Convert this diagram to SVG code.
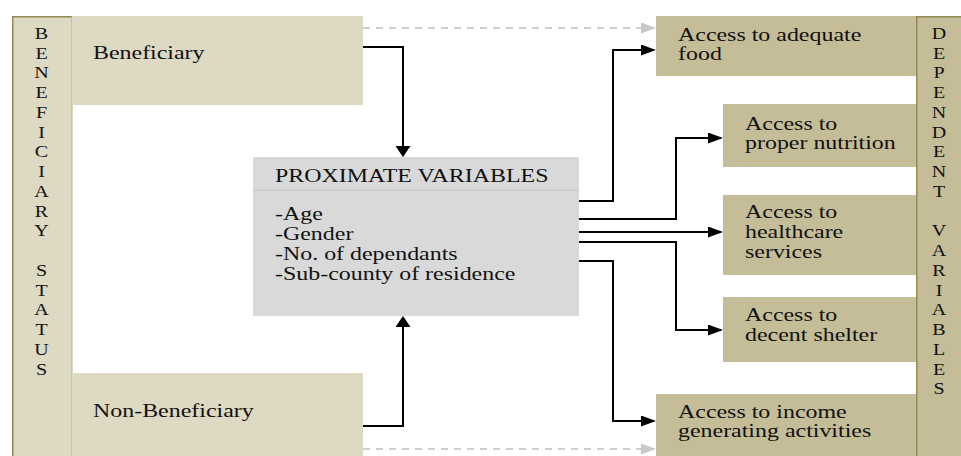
<svg xmlns="http://www.w3.org/2000/svg" width="961" height="456" viewBox="0 0 961 456">
<style>
.lt{fill:#ddd9c3}
.dk{fill:#c4bd97}
.edge{stroke:#948a54;stroke-width:1.5}
.t{font-family:"Liberation Serif","Times New Roman",serif;font-size:18px;fill:#111}
.v{font-family:"Liberation Serif","Times New Roman",serif;font-size:16px;fill:#111;text-anchor:middle}
.c{fill:none;stroke:#000;stroke-width:2}
.d{fill:none;stroke:#c0c0c0;stroke-width:1.5;stroke-dasharray:7 6}
</style>
<defs>
<marker id="ah" viewBox="0 0 15 11" refX="13" refY="5.5" markerWidth="15" markerHeight="11" markerUnits="userSpaceOnUse" orient="auto"><path d="M0,0 L15,5.5 L0,11 z" fill="#000"/></marker>
<marker id="av" viewBox="0 0 11 15" refX="9" refY="7.5" markerWidth="11" markerHeight="15" markerUnits="userSpaceOnUse" orient="auto"><path d="M0,0 L11,7.5 L0,15 z" fill="#000"/></marker>
<marker id="ag" viewBox="0 0 15 11" refX="13" refY="5.5" markerWidth="15" markerHeight="11" markerUnits="userSpaceOnUse" orient="auto"><path d="M0,0 L15,5.5 L0,11 z" fill="#c8c8c8"/></marker>
</defs>
<rect width="961" height="456" fill="#fff"/>

<g id="beneficiary-status">
<rect class="lt" x="12" y="16" width="60" height="445"/>
<line class="edge" x1="12.75" y1="16" x2="12.75" y2="456"/>
<line class="edge" x1="12" y1="16.75" x2="72" y2="16.75"/>
<line x1="72" y1="16" x2="72" y2="456" stroke="#b5ad85" stroke-width="1"/>
<text class="v" transform="matrix(1.25,0,0,1,41.5,39)"><tspan x="0" y="0">B</tspan><tspan x="0" y="19.75">E</tspan><tspan x="0" y="39.5">N</tspan><tspan x="0" y="59.25">E</tspan><tspan x="0" y="79">F</tspan><tspan x="0" y="98.75">I</tspan><tspan x="0" y="118.5">C</tspan><tspan x="0" y="138.25">I</tspan><tspan x="0" y="158">A</tspan><tspan x="0" y="177.75">R</tspan><tspan x="0" y="197.5">Y</tspan><tspan x="0" y="237">S</tspan><tspan x="0" y="256.75">T</tspan><tspan x="0" y="276.5">A</tspan><tspan x="0" y="296.25">T</tspan><tspan x="0" y="316">U</tspan><tspan x="0" y="335.75">S</tspan></text>
</g>

<g id="beneficiary">
<rect class="lt" x="72" y="16" width="291" height="89"/>
<text class="t" transform="matrix(1.33,0,0,1,93,59)">Beneficiary</text>
</g>

<g id="non-beneficiary">
<rect class="lt" x="72" y="373" width="291" height="83"/>
<text class="t" transform="matrix(1.33,0,0,1,93,417)">Non-Beneficiary</text>
</g>

<g id="proximate">
<rect x="253" y="157" width="326" height="159" fill="#d9d9d9"/>
<line x1="253" y1="190" x2="579" y2="190" stroke="#c4c4c4" stroke-width="1"/>
<text class="t" transform="matrix(1.33,0,0,1,275,182)">PROXIMATE VARIABLES</text>
<text class="t" transform="matrix(1.33,0,0,1,275,220)"><tspan x="0" y="0">-Age</tspan><tspan x="0" y="20">-Gender</tspan><tspan x="0" y="40">-No. of dependants</tspan><tspan x="0" y="60">-Sub-county of residence</tspan></text>
</g>

<g id="dependent-variables">
<rect class="dk" x="916" y="16" width="45" height="440"/>
<line class="edge" x1="916.75" y1="16" x2="916.75" y2="456"/>
<line class="edge" x1="916" y1="16.75" x2="961" y2="16.75"/>
<text class="v" transform="matrix(1.25,0,0,1,939,39)"><tspan x="0" y="0">D</tspan><tspan x="0" y="19.75">E</tspan><tspan x="0" y="39.5">P</tspan><tspan x="0" y="59.25">E</tspan><tspan x="0" y="79">N</tspan><tspan x="0" y="98.75">D</tspan><tspan x="0" y="118.5">E</tspan><tspan x="0" y="138.25">N</tspan><tspan x="0" y="158">T</tspan><tspan x="0" y="197.5">V</tspan><tspan x="0" y="217.25">A</tspan><tspan x="0" y="237">R</tspan><tspan x="0" y="256.75">I</tspan><tspan x="0" y="276.5">A</tspan><tspan x="0" y="296.25">B</tspan><tspan x="0" y="316">L</tspan><tspan x="0" y="335.75">E</tspan><tspan x="0" y="355.5">S</tspan></text>
</g>

<g id="food">
<rect class="dk" x="656" y="16" width="260" height="60"/>
<text class="t" transform="matrix(1.33,0,0,1,678,41)"><tspan x="0" y="0">Access to adequate</tspan><tspan x="0" y="19">food</tspan></text>
</g>

<g id="nutrition">
<rect class="dk" x="723" y="104" width="193" height="63"/>
<text class="t" transform="matrix(1.33,0,0,1,745,130)"><tspan x="0" y="0">Access to</tspan><tspan x="0" y="19">proper nutrition</tspan></text>
</g>

<g id="healthcare">
<rect class="dk" x="723" y="195" width="193" height="80"/>
<text class="t" transform="matrix(1.33,0,0,1,745,218)"><tspan x="0" y="0">Access to</tspan><tspan x="0" y="20">healthcare</tspan><tspan x="0" y="40">services</tspan></text>
</g>

<g id="shelter">
<rect class="dk" x="723" y="297" width="193" height="65"/>
<text class="t" transform="matrix(1.33,0,0,1,745,321)"><tspan x="0" y="0">Access to</tspan><tspan x="0" y="20">decent shelter</tspan></text>
</g>

<g id="income">
<rect class="dk" x="656" y="394" width="260" height="62"/>
<text class="t" transform="matrix(1.33,0,0,1,678,418)"><tspan x="0" y="0">Access to income</tspan><tspan x="0" y="19">generating activities</tspan></text>
</g>

<g id="connectors">
<path class="d" d="M363,28 H654" marker-end="url(#ag)"/>
<path class="d" d="M363,449 H654" marker-end="url(#ag)"/>
<path class="c" d="M363,47 H403 V155" marker-end="url(#av)"/>
<path class="c" d="M363,426 H403 V318" marker-end="url(#av)"/>
<path class="c" d="M579,201 H613 V50 H654" marker-end="url(#ah)"/>
<path class="c" d="M579,219 H676 V138 H721" marker-end="url(#ah)"/>
<path class="c" d="M579,232 H721" marker-end="url(#ah)"/>
<path class="c" d="M579,242 H676 V330 H721" marker-end="url(#ah)"/>
<path class="c" d="M579,261 H613 V421 H654" marker-end="url(#ah)"/>
</g>
</svg>
